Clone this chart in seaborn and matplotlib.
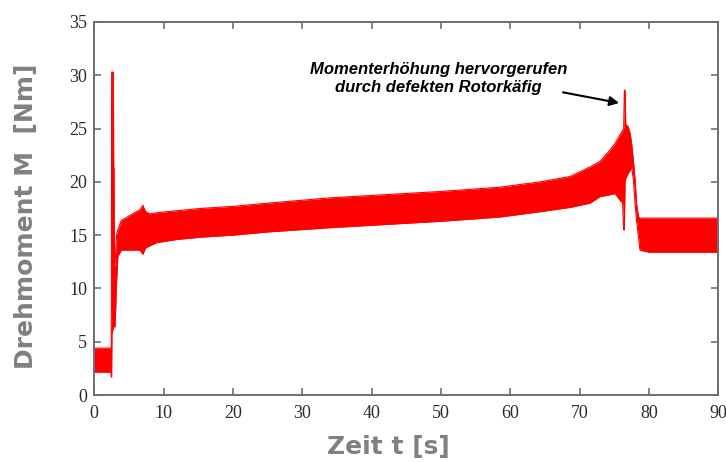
import matplotlib
matplotlib.use("Agg")
import matplotlib.pyplot as plt
import seaborn as sns
import pandas as pd

# ---- data (envelope of the noisy torque signal) ----
time_s = [0.0, 2.4, 2.45, 2.5, 2.55, 2.7, 2.75, 2.8, 2.85, 2.9, 3.0, 3.2, 3.4,
          3.9, 4.5, 5.0, 6.6, 7.0, 7.4, 8.0, 9.0, 12.0, 15.2, 20.0, 25.0,
          34.0, 42.0, 50.0, 58.5, 64.3, 68.6, 71.5, 72.9, 74.4, 75.1, 75.8,
          76.2, 76.35, 76.45, 76.55, 76.65, 76.8, 77.0, 77.3, 77.5, 77.75,
          78.0, 78.2, 78.5, 78.7, 80.0, 85.0, 90.0]
torque_upper = [4.4, 4.4, 4.4, 30.3, 30.3, 30.3, 30.3, 21.3, 21.3, 12.0, 12.3,
                15.0, 15.5, 16.4, 16.6, 16.8, 17.4, 17.8, 17.2, 17.0, 17.1,
                17.3, 17.5, 17.7, 18.0, 18.5, 18.8, 19.1, 19.5, 20.0, 20.5,
                21.4, 21.9, 23.0, 23.6, 24.4, 24.8, 25.0, 28.6, 28.6, 25.4,
                25.3, 25.2, 24.5, 23.6, 22.0, 20.2, 18.0, 16.7, 16.6, 16.6,
                16.6, 16.6]
torque_lower = [2.15, 2.15, 1.7, 1.7, 5.8, 6.2, 6.3, 6.4, 6.4, 6.4, 6.4, 10.5,
                13.0, 13.6, 13.6, 13.6, 13.6, 13.2, 13.8, 14.0, 14.3, 14.6,
                14.8, 15.0, 15.3, 15.7, 16.0, 16.3, 16.7, 17.2, 17.6, 18.0,
                18.6, 18.8, 18.9, 18.3, 18.0, 15.5, 15.5, 20.0, 20.3, 20.5,
                20.8, 21.1, 21.4, 20.2, 18.0, 16.4, 14.8, 13.6, 13.4, 13.4,
                13.4]

x_ticks = [0, 10, 20, 30, 40, 50, 60, 70, 80, 90]
y_ticks = [0, 5, 10, 15, 20, 25, 30, 35]

x_label = "Zeit t [s]"
y_label = "Drehmoment M  [Nm]"
note_text = "Momenterhöhung hervorgerufen\ndurch defekten Rotorkäfig"

df = pd.DataFrame({"t": time_s, "upper": torque_upper, "lower": torque_lower})

sns.set_style("white")
plt.rcParams["font.family"] = ["DejaVu Sans"]

fig = plt.figure(figsize=(7.26, 4.62), dpi=100)
ax = fig.add_axes([94.3 / 726, 67 / 462, 624 / 726, 373 / 462])

red = "#ff0000"
ax.fill_between(df["t"], df["lower"], df["upper"], color=red, linewidth=0)
sns.lineplot(data=df, x="t", y="upper", ax=ax, color=red, linewidth=0.8,
             estimator=None, sort=False)
sns.lineplot(data=df, x="t", y="lower", ax=ax, color=red, linewidth=0.8,
             estimator=None, sort=False)

ax.set_xlim(0, 90)
ax.set_ylim(0, 35)
ax.set_xticks(x_ticks)
ax.set_yticks(y_ticks)
ax.set_xlabel("")
ax.set_ylabel("")

spine_col = "#6e6e6e"
for s in ax.spines.values():
    s.set_visible(True)
    s.set_color(spine_col)
    s.set_linewidth(1.4)

ax.tick_params(axis="both", which="both", direction="in", length=5, width=1.2,
               color=spine_col, top=True, right=True, bottom=True, left=True,
               labelcolor="#2a2a2a", labelsize=13)
ax.tick_params(axis="x", pad=7)
ax.tick_params(axis="y", pad=5)
for lbl in ax.get_xticklabels() + ax.get_yticklabels():
    lbl.set_fontfamily("Liberation Serif")

# axis titles (gray, bold)
fig.text(388 / 726, 1 - 447 / 462, x_label, ha="center", va="center",
         fontsize=18, fontweight="bold", color="#808080", family="DejaVu Sans")
fig.text(26 / 726, 1 - 216 / 462, y_label, ha="center", va="center",
         rotation=90, fontsize=18, fontweight="bold", color="#808080",
         family="DejaVu Sans")

# annotation
ax.text(49.6, 29.7, note_text, ha="center", va="center", fontsize=12,
        fontweight="bold", fontstyle="italic", family="Liberation Sans",
        color="black", linespacing=1.25)
ax.annotate("", xy=(75.7, 27.4), xytext=(67.6, 28.4),
            arrowprops=dict(arrowstyle="-|>", color="black", lw=1.5,
                            mutation_scale=14, shrinkA=0, shrinkB=0))

fig.savefig("out.png", dpi=100)
